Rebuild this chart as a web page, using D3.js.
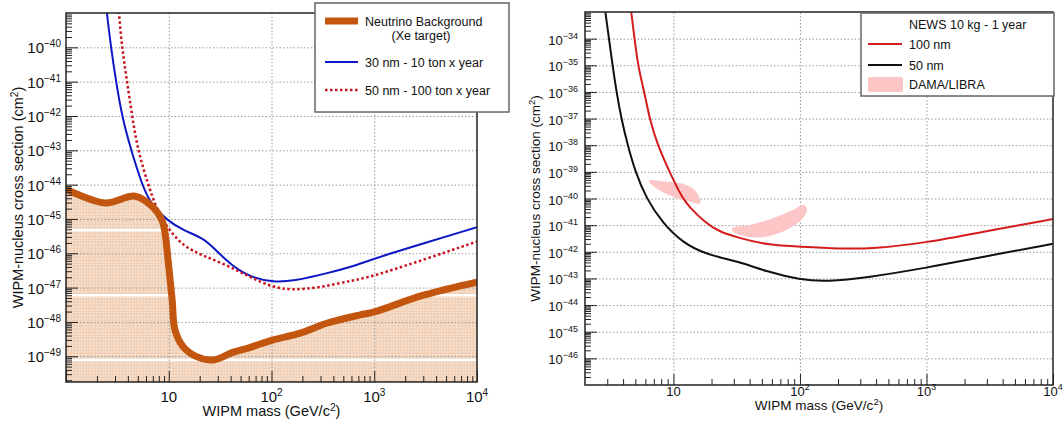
<!DOCTYPE html>
<html>
<head>
<meta charset="utf-8">
<script src="https://cdn.jsdelivr.net/npm/d3@7"></script>
<style>
  body { margin: 0; background: #fff; }
  svg { font-family: "Liberation Sans", Arial, Helvetica, sans-serif; }
</style>
</head>
<body>
<div id="chart"></div>
<script>
// ---- data ----
// left panel: neutrino background (Xe target)
const nuMass = [1, 2.4, 4.7, 7.03, 8.6, 9.2, 9.85, 10.8, 11.5, 13.8, 18.9, 27, 42, 58, 104, 190, 350, 730, 1000, 3000, 10000];
const nuXsec = [7.4e-45, 2.9e-45, 4.6e-45, 2.2e-45, 9.1e-46, 3.9e-46, 6.3e-47, 4.3e-48, 5.8e-49, 1.9e-49, 9.6e-50, 7.8e-50, 1.3e-49, 1.7e-49, 3.0e-49, 4.7e-49, 9.3e-49, 1.6e-48, 1.95e-48, 6.0e-48, 1.45e-47];
// 30 nm - 10 ton x year
const m30Mass = [2.4, 2.5, 2.74, 3.07, 3.5, 4.3, 5.5, 6.6, 9.6, 13.8, 21.6, 27, 42, 66, 104, 162, 350, 730, 1000, 10000];
const m30Xsec = [3e-39, 1e-39, 1e-40, 1e-41, 1e-42, 1e-43, 1e-44, 2.9e-45, 9.1e-46, 4.7e-46, 2.75e-46, 1.5e-46, 4e-47, 1.9e-47, 1.45e-47, 1.55e-47, 2.6e-47, 4.8e-47, 7.2e-47, 5.75e-46];
// 50 nm - 100 ton x year
const m50Mass = [3.15, 3.28, 3.5, 3.93, 4.4, 5.0, 6.3, 7.7, 9.6, 13.8, 21.6, 37, 62, 104, 162, 298, 620, 1000, 10000];
const m50Xsec = [3e-39, 1e-39, 1e-40, 1e-41, 1e-42, 1e-43, 1e-44, 1.8e-45, 5.75e-46, 1.6e-46, 8.5e-47, 4.5e-47, 2e-47, 1.0e-47, 8.5e-48, 1.0e-47, 1.65e-47, 2.1e-47, 2.2e-46];
// white stripes in the shaded area
const stripeXsec = [4.7e-46, 6.0e-48, 7.8e-50];

// right panel: NEWS 10 kg - 1 year
const n100Mass = [4.5, 4.65, 5.2, 5.9, 6.46, 7.5, 9.3, 11.8, 13.4, 17.6, 23.1, 33, 55, 100, 205, 380, 1000, 2800, 10000];
const n100Xsec = [3e-33, 1e-33, 1e-35, 1e-36, 1e-37, 1e-38, 1e-39, 1e-40, 4.8e-41, 1.3e-41, 5.6e-42, 3.3e-42, 1.8e-42, 1.55e-42, 1.3e-42, 1.3e-42, 2.2e-42, 5.6e-42, 1.7e-41];
const n50Mass = [2.8, 2.9, 3.3, 3.55, 3.87, 4.35, 5.0, 6.1, 8.2, 11.8, 18.2, 33, 54.5, 100, 163, 338, 1000, 2800, 10000];
const n50Xsec = [3e-33, 1e-33, 1e-35, 1e-36, 1e-37, 1e-38, 1e-39, 1e-40, 1.2e-41, 2.2e-42, 7.8e-43, 4.3e-43, 1.8e-43, 8.9e-44, 7.6e-44, 1.07e-43, 2.5e-43, 6.5e-43, 2e-42];
// DAMA/LIBRA contours
const damaLowMass = [6.37, 8.75, 12.6, 15.1, 16.3, 13.4, 9.87, 7.3];
const damaLowXsec = [4.7e-40, 4.3e-40, 3.2e-40, 1.8e-40, 6.6e-41, 7.6e-41, 1.17e-40, 2.4e-40];
const damaHighMass = [29.2, 40, 61, 88, 107, 114, 103, 78, 51, 35.4, 29.5];
const damaHighXsec = [7.8e-42, 1.02e-41, 1.8e-41, 3.7e-41, 5.75e-41, 4e-41, 1.6e-41, 6.6e-42, 3.5e-42, 4e-42, 5.75e-42];

const width = 1063;
const height = 426;

const svg = d3.select("#chart")
  .append("svg")
  .attr("width", width)
  .attr("height", height);

// dotted peach fill for the neutrino floor
const defs = svg.append("defs");
const pat = defs.append("pattern")
  .attr("id", "nuFill")
  .attr("width", 3).attr("height", 3)
  .attr("patternUnits", "userSpaceOnUse");
pat.append("rect").attr("width", 3).attr("height", 3).attr("fill", "#f0d1b8");
pat.append("rect").attr("width", 1.5).attr("height", 1.5).attr("fill", "#f9e7d9");

// scales
const xL = d3.scaleLog().domain([1, 1e4]).range([66, 477]);
const yL = d3.scaleLog().domain([Math.pow(10, -49.75), 1e-39]).range([382, 13]);
const xR = d3.scaleLog().domain([2, 1e4]).range([585, 1053]);
const yR = d3.scaleLog().domain([1e-47, 1e-33]).range([385, 12]);

// list the decades and the 2..9 minor values inside a log domain
function logTicks(scale) {
  const [a, b] = scale.domain();
  const lo = Math.floor(Math.log10(a) + 1e-9), hi = Math.ceil(Math.log10(b) - 1e-9);
  const majors = [], minors = [];
  for (let e = lo; e <= hi; e++) {
    const p = Math.pow(10, e);
    if (p >= a * 0.999 && p <= b * 1.001) majors.push(p);
    for (let k = 2; k <= 9; k++) {
      const v = k * p;
      if (v > a * 1.001 && v < b * 0.999) minors.push(v);
    }
  }
  return { majors, minors };
}

// write 10^e as text with a superscript
function powText(sel, v, supSize) {
  const e = Math.round(Math.log10(v));
  sel.append("tspan").text("10");
  if (e !== 1) {
    sel.append("tspan")
      .attr("dy", -6)
      .style("font-size", supSize + "px")
      .text(e < 0 ? "\u2212" + (-e) : e);
  }
}

function drawGrid(g, x, y) {
  const [x0, x1] = x.range();
  const [y0, y1] = y.range();
  const xg = logTicks(x).majors.filter(v => x(v) > x0 + 2 && x(v) < x1 - 2);
  const yg = logTicks(y).majors.filter(v => y(v) < y0 - 2 && y(v) > y1 + 2);
  g.append("g")
    .attr("transform", "translate(0," + y0 + ")")
    .call(d3.axisBottom(x).tickValues(xg).tickSize(-(y0 - y1)).tickFormat(""))
    .call(s => s.select(".domain").remove())
    .selectAll("line")
    .attr("stroke", "#9a9a9a").attr("stroke-dasharray", "1.5,2");
  g.append("g")
    .attr("transform", "translate(" + x0 + ",0)")
    .call(d3.axisLeft(y).tickValues(yg).tickSize(-(x1 - x0)).tickFormat(""))
    .call(s => s.select(".domain").remove())
    .selectAll("line")
    .attr("stroke", "#9a9a9a").attr("stroke-dasharray", "1.5,2");
}

function drawAxes(g, x, y, o) {
  const [x0, x1] = x.range();
  const [y0, y1] = y.range();
  const tx = logTicks(x), ty = logTicks(y);
  // y decades strictly inside the frame get ticks and labels
  const yMaj = ty.majors.filter(v => y(v) < y0 - 2 && y(v) > y1 + 2);

  // x ticks, drawn inside the frame
  [[tx.majors, 11], [tx.minors, 6]].forEach(([vals, len]) => {
    g.append("g")
      .attr("transform", "translate(0," + y0 + ")")
      .call(d3.axisBottom(x).tickValues(vals).tickSize(-len).tickFormat(""))
      .call(s => s.select(".domain").remove())
      .selectAll("line").attr("stroke", "#222");
  });
  // y ticks
  [[yMaj, 12], [ty.minors, 6]].forEach(([vals, len]) => {
    g.append("g")
      .attr("transform", "translate(" + x0 + ",0)")
      .call(d3.axisLeft(y).tickValues(vals).tickSize(-len).tickFormat(""))
      .call(s => s.select(".domain").remove())
      .selectAll("line").attr("stroke", "#222");
  });

  // frame
  g.append("rect")
    .attr("x", x0).attr("y", y1)
    .attr("width", x1 - x0).attr("height", y0 - y1)
    .attr("fill", "none").attr("stroke", "#222").attr("stroke-width", 1.5);

  // x labels
  tx.majors.filter(v => v >= 10).forEach(v => {
    const t = g.append("text")
      .attr("x", x(v)).attr("y", y0 + o.xLabDy)
      .attr("text-anchor", "middle")
      .style("font-size", o.tickSize + "px")
      .attr("fill", "#111");
    powText(t, v, o.supSize);
  });
  // y labels
  yMaj.forEach(v => {
    const t = g.append("text")
      .attr("x", o.yLabX).attr("y", y(v) + 6)
      .attr("text-anchor", "end")
      .style("font-size", o.tickSize + "px")
      .attr("fill", "#111");
    powText(t, v, o.supSize);
  });

  // axis titles
  const xt = g.append("text")
    .attr("x", (x0 + x1) / 2).attr("y", y0 + o.xTitleDy)
    .attr("text-anchor", "middle")
    .style("font-size", o.titleSize + "px")
    .attr("fill", "#111");
  xt.append("tspan").text("WIPM mass (GeV/c");
  xt.append("tspan").attr("dy", -5).style("font-size", (o.titleSize * 0.7) + "px").text("2");
  xt.append("tspan").attr("dy", 5).text(")");

  const yt = g.append("text")
    .attr("transform", "translate(" + o.yTitleX + "," + (y0 + y1) / 2 + ") rotate(-90)")
    .attr("text-anchor", "middle")
    .style("font-size", o.titleSize + "px")
    .attr("fill", "#111");
  yt.append("tspan").text("WIPM-nucleus cross section (cm");
  yt.append("tspan").attr("dy", -5).style("font-size", (o.titleSize * 0.7) + "px").text("2");
  yt.append("tspan").attr("dy", 5).text(")");
}

function clipFor(id, x, y) {
  defs.append("clipPath").attr("id", id)
    .append("rect")
    .attr("x", x.range()[0]).attr("y", y.range()[1])
    .attr("width", x.range()[1] - x.range()[0])
    .attr("height", y.range()[0] - y.range()[1]);
  return "url(#" + id + ")";
}

// curve through the points for the neutrino floor, smoothing B-spline for sensitivities
const through = d3.curveCatmullRom.alpha(0.5);
const smooth = d3.curveBasis;

function lineOf(x, y, ms, curve) {
  return d3.line()
    .x((d, i) => x(ms[i]))
    .y(d => y(d))
    .curve(curve || smooth);
}

// ================= left panel =================
const left = svg.append("g");
const clipL = clipFor("clipL", xL, yL);
const plotL = left.append("g").attr("clip-path", clipL);

const nuArea = d3.area()
  .x((d, i) => xL(nuMass[i]))
  .y0(yL.range()[0])
  .y1((d, i) => yL(nuXsec[i]))
  .curve(through);

plotL.append("path")
  .attr("d", nuArea(nuXsec))
  .attr("fill", "url(#nuFill)");

// white stripes only where the fill is
defs.append("clipPath").attr("id", "nuClip")
  .append("path").attr("d", nuArea(nuXsec));
plotL.append("g").attr("clip-path", "url(#nuClip)")
  .selectAll("line")
  .data(stripeXsec)
  .enter()
  .append("line")
  .attr("x1", xL.range()[0]).attr("x2", xL.range()[1])
  .attr("y1", d => yL(d)).attr("y2", d => yL(d))
  .attr("stroke", "#fff").attr("stroke-width", 2.5);

drawGrid(plotL, xL, yL);

plotL.append("path")
  .attr("d", lineOf(xL, yL, m30Mass)(m30Xsec))
  .attr("fill", "none").attr("stroke", "#0f17c4").attr("stroke-width", 2);

plotL.append("path")
  .attr("d", lineOf(xL, yL, m50Mass)(m50Xsec))
  .attr("fill", "none").attr("stroke", "#c8141e").attr("stroke-width", 2.5)
  .attr("stroke-dasharray", "2.5,2.5");

plotL.append("path")
  .attr("d", lineOf(xL, yL, nuMass, through)(nuXsec))
  .attr("fill", "none").attr("stroke", "#c2560f").attr("stroke-width", 7)
  .attr("stroke-linejoin", "round");

drawAxes(left, xL, yL, {
  tickSize: 15, supSize: 10, titleSize: 14.5,
  xLabDy: 20, xTitleDy: 34, yLabX: 61, yTitleX: 23
});

// left legend
const legL = svg.append("g").style("font-size", "12.5px").attr("fill", "#111");
legL.append("rect")
  .attr("x", 315).attr("y", 3).attr("width", 194).attr("height", 109)
  .attr("fill", "#fff").attr("stroke", "#666").attr("stroke-width", 1.5);
legL.append("line").attr("x1", 325).attr("x2", 358).attr("y1", 21).attr("y2", 21)
  .attr("stroke", "#c2560f").attr("stroke-width", 7);
legL.append("text").attr("x", 365).attr("y", 26).text("Neutrino Background");
legL.append("text").attr("x", 421).attr("y", 40).attr("text-anchor", "middle").text("(Xe target)");
legL.append("line").attr("x1", 325).attr("x2", 358).attr("y1", 62).attr("y2", 62)
  .attr("stroke", "#0f17c4").attr("stroke-width", 2);
legL.append("text").attr("x", 365).attr("y", 67).text("30 nm - 10 ton x year");
legL.append("line").attr("x1", 325).attr("x2", 358).attr("y1", 90).attr("y2", 90)
  .attr("stroke", "#c8141e").attr("stroke-width", 2.5).attr("stroke-dasharray", "2.5,2.5");
legL.append("text").attr("x", 365).attr("y", 95).text("50 nm - 100 ton x year");

// ================= right panel =================
const right = svg.append("g");
const clipR = clipFor("clipR", xR, yR);
const plotR = right.append("g").attr("clip-path", clipR);

drawGrid(plotR, xR, yR);

const damaLine = (ms) => d3.line()
  .x((d, i) => xR(ms[i]))
  .y(d => yR(d))
  .curve(d3.curveCatmullRomClosed);

plotR.append("path")
  .attr("d", damaLine(damaLowMass)(damaLowXsec))
  .attr("fill", "#fcc6c6");
plotR.append("path")
  .attr("d", damaLine(damaHighMass)(damaHighXsec))
  .attr("fill", "#fcc6c6");

plotR.append("path")
  .attr("d", lineOf(xR, yR, n100Mass)(n100Xsec))
  .attr("fill", "none").attr("stroke", "#d41c1c").attr("stroke-width", 2);
plotR.append("path")
  .attr("d", lineOf(xR, yR, n50Mass)(n50Xsec))
  .attr("fill", "none").attr("stroke", "#111").attr("stroke-width", 2);

drawAxes(right, xR, yR, {
  tickSize: 13, supSize: 9, titleSize: 13.5,
  xLabDy: 11, xTitleDy: 25, yLabX: 578, yTitleX: 540
});

// right legend
const legR = svg.append("g").style("font-size", "12.5px").attr("fill", "#111");
legR.append("rect")
  .attr("x", 861).attr("y", 13).attr("width", 193).attr("height", 83)
  .attr("fill", "#fff").attr("stroke", "#666").attr("stroke-width", 1.5);
legR.append("text").attr("x", 909).attr("y", 29).text("NEWS 10 kg - 1 year");
legR.append("line").attr("x1", 868).attr("x2", 902).attr("y1", 44).attr("y2", 44)
  .attr("stroke", "#d41c1c").attr("stroke-width", 2);
legR.append("text").attr("x", 909).attr("y", 49).text("100 nm");
legR.append("line").attr("x1", 868).attr("x2", 902).attr("y1", 65).attr("y2", 65)
  .attr("stroke", "#111").attr("stroke-width", 2);
legR.append("text").attr("x", 909).attr("y", 70).text("50 nm");
legR.append("rect").attr("x", 868).attr("y", 77).attr("width", 35).attr("height", 15)
  .attr("rx", 2).attr("fill", "#fcc6c6");
legR.append("text").attr("x", 909).attr("y", 89).text("DAMA/LIBRA");
</script>
</body>
</html>
